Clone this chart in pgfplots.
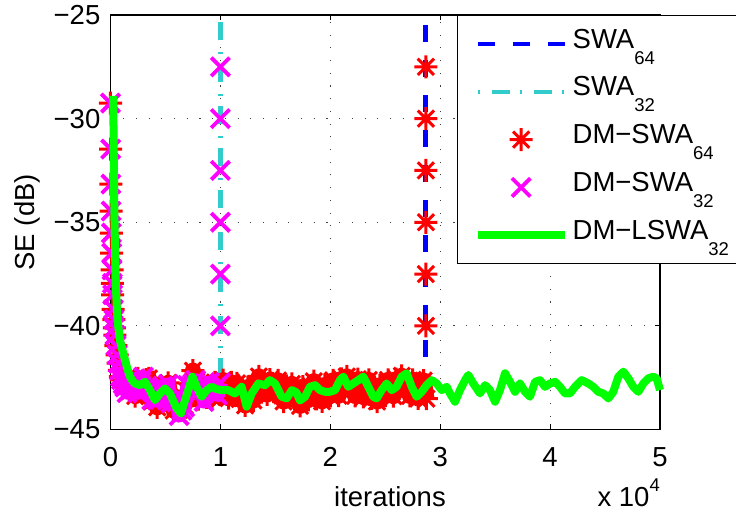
\documentclass[border=0pt]{standalone}
\usepackage{fontspec}
\setmainfont{Liberation Sans}
\usepackage{pgfplots}
\pgfplotsset{compat=1.18}

\definecolor{swablue}{RGB}{0,0,255}
\definecolor{swacyan}{RGB}{51,204,204}
\definecolor{dmred}{RGB}{255,0,0}
\definecolor{dmmagenta}{RGB}{255,0,255}
\definecolor{lswagreen}{RGB}{0,255,0}

% eight-armed asterisk (plus overlaid with a cross)
\pgfdeclareplotmark{mstar}{%
  \pgfpathmoveto{\pgfqpoint{-\pgfplotmarksize}{0pt}}%
  \pgfpathlineto{\pgfqpoint{\pgfplotmarksize}{0pt}}%
  \pgfpathmoveto{\pgfqpoint{0pt}{-\pgfplotmarksize}}%
  \pgfpathlineto{\pgfqpoint{0pt}{\pgfplotmarksize}}%
  \pgfpathmoveto{\pgfqpoint{-.7071\pgfplotmarksize}{-.7071\pgfplotmarksize}}%
  \pgfpathlineto{\pgfqpoint{.7071\pgfplotmarksize}{.7071\pgfplotmarksize}}%
  \pgfpathmoveto{\pgfqpoint{-.7071\pgfplotmarksize}{.7071\pgfplotmarksize}}%
  \pgfpathlineto{\pgfqpoint{.7071\pgfplotmarksize}{-.7071\pgfplotmarksize}}%
  \pgfusepathqstroke}

\newcommand{\bigfont}{\fontsize{27.5}{33}\selectfont}
\newcommand{\sub}[1]{\raisebox{-16pt}{\fontsize{18.5}{18.5}\selectfont #1}}

\begin{document}
\begin{tikzpicture}
\useasboundingbox (0,0) rectangle (736pt,512pt);
\begin{axis}[
  name=ax,
  at={(110.5pt,82.5pt)}, anchor=south west,
  width=549.5pt, height=414.5pt, scale only axis,
  clip=false, clip marker paths=true,
  xmin=0, xmax=5, ymin=-45, ymax=-25,
  xtick={0,1,2,3,4,5}, xticklabels={0,1,2,3,4,5},
  ytick={-45,-40,-35,-30,-25}, yticklabels={−45,−40,−35,−30,−25},
  tick align=inside, major tick length=5.5pt,
  tick style={black, line width=1.1pt},
  grid=major,
  major grid style={black!75, line width=1.1pt, dash pattern=on 1.1pt off 11.6pt},
  axis line style={line width=1.3pt},
  tick label style={font=\bigfont},
  xticklabel style={inner sep=0pt, yshift=-18pt},
  yticklabel style={inner sep=0pt, xshift=-10pt},
  xlabel={iterations}, ylabel={SE (dB)},
  label style={font=\bigfont},
  xlabel style={at={(axis description cs:0.5086,-0.185)}, anchor=base},
  ylabel style={at={(axis description cs:-0.1374,0.5)}, anchor=base},
  legend image code/.code={%
    \draw[mark repeat=2,mark phase=2,#1] plot coordinates {(0pt,0pt) (43.5pt,0pt) (87pt,0pt)};},
  legend cell align=left,
  legend style={at={(axis description cs:0.6297,1)}, anchor=north west,
    font=\bigfont, draw=black, fill=white, line width=1.3pt,
    inner xsep=16.5pt, inner ysep=8.5pt, row sep=7.75pt, column sep=4pt,
    nodes={inner sep=0pt, text height=24pt, text depth=16pt, text width=147pt}},
]

% SWA_64: diverges at about 2.87e4 iterations
\addplot[swablue, line width=4.5pt, dash pattern=on 17pt off 18pt]
  coordinates {(2.865,-43.2) (2.865,-25)};
\addlegendentry{SWA\sub{64}}

% SWA_32: diverges at about 1e4 iterations
\addplot[swacyan, line width=4.5pt, dash pattern=on 2pt off 12pt on 18pt off 10pt]
  coordinates {(1.0,-43.1) (1.0,-25)};
\addlegendentry{SWA\sub{32}}

% DM-SWA_64: initial transient and the samples after divergence
\addplot[dmred, only marks, mark=mstar, mark size=11.5pt, mark options={line width=3pt}]
  coordinates {
  (0,-29.25) (0.002,-31.47) (0.004,-33.16) (0.006,-34.46) (0.008,-35.52)
  (0.011,-36.49) (0.014,-37.3) (0.017,-37.95) (0.02,-38.5) (0.025,-39.2)
  (0.03,-39.7) (0.035,-40.1) (0.04,-40.45) (0.05,-40.95) (0.06,-41.4)
  (0.07,-41.8) (0.08,-42.15) (0.09,-42.45) (0.1,-42.6) (0.115,-42.8)
  (2.87,-40) (2.87,-37.5) (2.87,-35) (2.87,-32.5) (2.87,-30) (2.87,-27.5)
  };
\addlegendentry{DM−SWA\sub{64}}

% DM-SWA_64: steady state (dense samples)
\addplot[dmred, forget plot, line width=16pt, line join=round, mark=mstar, mark size=11.5pt, mark options={line width=3pt}]
  coordinates {
  (0.13,-42.95)
  (0.15,-42.53) (0.175,-43.16) (0.2,-42.83) (0.225,-43.39) (0.25,-42.53)
  (0.275,-42.91) (0.3,-43.17) (0.325,-42.59) (0.35,-42.53) (0.375,-43.65)
  (0.4,-43.53) (0.425,-43.93) (0.45,-42.98) (0.475,-42.99) (0.5,-43.32)
  (0.525,-42.75) (0.55,-43.51) (0.575,-44.08) (0.6,-43.60) (0.625,-44.05)
  (0.65,-43.65) (0.675,-43.85) (0.7,-43.15) (0.725,-43.28) (0.75,-42.16)
  (0.775,-42.90) (0.8,-43.53) (0.825,-43.16) (0.85,-42.81) (0.875,-43.45)
  (0.9,-43.01) (0.925,-43.44) (0.95,-42.73) (0.975,-42.92) (1.0,-43.28)
  (1.025,-42.62) (1.05,-43.20) (1.075,-43.49) (1.1,-42.73) (1.125,-43.03)
  (1.15,-42.77) (1.175,-43.53) (1.2,-43.33) (1.225,-43.84) (1.25,-42.95)
  (1.275,-43.34) (1.3,-43.60) (1.325,-42.81) (1.35,-42.44) (1.375,-43.20)
  (1.4,-42.78) (1.425,-43.31) (1.45,-42.59) (1.475,-42.77) (1.5,-43.23)
  (1.525,-42.63) (1.55,-43.28) (1.575,-43.65) (1.6,-42.90) (1.625,-43.19)
  (1.65,-42.80) (1.675,-43.46) (1.7,-43.27) (1.725,-43.86) (1.75,-42.93)
  (1.775,-43.27) (1.8,-43.57) (1.825,-42.93) (1.85,-42.67) (1.875,-43.52)
  (1.9,-43.18) (1.925,-43.64) (1.95,-42.85) (1.975,-42.97) (2.0,-43.38)
  (2.025,-42.63) (2.05,-43.13) (2.075,-43.37) (2.1,-42.56) (2.125,-42.81)
  (2.15,-42.44) (2.175,-43.08) (2.2,-42.81) (2.225,-43.38) (2.25,-42.57)
  (2.275,-43.03) (2.3,-43.43) (2.325,-42.83) (2.35,-42.61) (2.375,-43.50)
  (2.4,-43.18) (2.425,-43.65) (2.45,-42.87) (2.475,-42.99) (2.5,-43.36)
  (2.525,-42.61) (2.55,-43.13) (2.575,-43.39) (2.6,-42.57) (2.625,-42.81)
  (2.65,-42.41) (2.675,-43.02) (2.7,-42.78) (2.725,-43.38) (2.75,-42.60)
  (2.775,-43.09) (2.8,-43.50) (2.825,-42.90) (2.85,-42.64) (2.875,-43.51)
  };

% DM-SWA_32: initial transient and the samples after divergence
\addplot[dmmagenta, only marks, mark=x, mark size=13pt, mark options={line width=3.8pt}]
  coordinates {
  (0,-29.25) (0.002,-31.47) (0.004,-33.16) (0.006,-34.46) (0.008,-35.52)
  (0.011,-36.49) (0.014,-37.3) (0.017,-37.95) (0.02,-38.5) (0.025,-39.2)
  (0.03,-39.7) (0.035,-40.1) (0.04,-40.45) (0.05,-40.95) (0.06,-41.4)
  (0.07,-41.8) (0.08,-42.15) (0.09,-42.45) (0.1,-42.6) (0.115,-42.8)
  (1.0,-40) (1.0,-37.5) (1.0,-35) (1.0,-32.5) (1.0,-30) (1.0,-27.5)
  };
\addlegendentry{DM−SWA\sub{32}}

% DM-SWA_32: steady state (dense samples)
\addplot[dmmagenta, forget plot, line width=14pt, line join=round, mark=x, mark size=13pt, mark options={line width=3.8pt}]
  coordinates {
  (0.13,-42.95)
  (0.15,-43.23) (0.175,-42.74) (0.2,-42.97) (0.225,-42.55) (0.25,-43.23)
  (0.275,-42.70) (0.3,-42.47) (0.325,-43.01) (0.35,-43.02) (0.375,-43.58)
  (0.4,-43.18) (0.425,-43.58) (0.45,-43.54) (0.475,-42.92) (0.5,-43.11)
  (0.525,-42.82) (0.55,-43.72) (0.575,-43.52) (0.6,-43.67) (0.625,-44.33)
  (0.65,-44.07) (0.675,-43.92) (0.7,-42.87) (0.725,-42.93) (0.75,-42.79)
  (0.775,-42.62) (0.8,-43.18) (0.825,-43.02) (0.85,-43.65) (0.875,-42.96)
  (0.9,-42.73) (0.925,-43.16) (0.95,-43.01) (0.975,-43.34) (1.0,-42.74)
  };

% DM-LSWA_32
\addplot[lswagreen, line width=8pt, line join=round]
  coordinates {
  (0.025,-28.9) (0.03,-32.0) (0.035,-34.5) (0.04,-36.0) (0.045,-37.3)
  (0.05,-38.2) (0.06,-39.4) (0.07,-40.0) (0.086,-40.7) (0.11,-41.2)
  (0.132,-41.65) (0.155,-42.1) (0.177,-42.45) (0.2,-42.65) (0.223,-42.78)
  (0.268,-42.86) (0.314,-42.70) (0.359,-43.10) (0.405,-43.58) (0.450,-43.26)
  (0.496,-43.02) (0.541,-43.26) (0.602,-43.98) (0.641,-44.22) (0.693,-43.34)
  (0.745,-42.45) (0.784,-42.94) (0.830,-43.42) (0.875,-43.10) (0.920,-42.94)
  (0.965,-43.05) (1.011,-43.10) (1.072,-43.10) (1.133,-43.26) (1.193,-42.94)
  (1.239,-43.90) (1.285,-43.26) (1.345,-42.78) (1.406,-42.86) (1.451,-42.62)
  (1.497,-42.78) (1.558,-43.42) (1.603,-43.50) (1.650,-43.10) (1.690,-43.20)
  (1.724,-43.60) (1.770,-43.42) (1.815,-42.94) (1.861,-42.86) (1.906,-43.10)
  (1.952,-43.18) (1.997,-43.18) (2.043,-43.10) (2.088,-42.62) (2.119,-42.45)
  (2.164,-42.94) (2.209,-42.78) (2.255,-42.62) (2.300,-42.45) (2.346,-42.94)
  (2.391,-43.42) (2.422,-43.50) (2.467,-43.10) (2.513,-42.78) (2.559,-43.10)
  (2.604,-42.94) (2.650,-42.45) (2.695,-42.29) (2.741,-42.94) (2.786,-43.42)
  (2.832,-43.18) (2.877,-42.86) (2.923,-42.62) (2.968,-42.78) (3.014,-43.10)
  (3.059,-42.94) (3.089,-43.26) (3.135,-43.66) (3.180,-43.10) (3.226,-42.62)
  (3.256,-42.37) (3.301,-42.78) (3.362,-43.26) (3.408,-42.86) (3.453,-43.10)
  (3.499,-43.66) (3.544,-43.10) (3.590,-42.29) (3.635,-42.70) (3.681,-43.18)
  (3.726,-42.78) (3.772,-43.18) (3.817,-43.42) (3.863,-42.70) (3.908,-42.62)
  (3.954,-42.94) (3.999,-42.78) (4.045,-42.70) (4.090,-42.94) (4.136,-43.26)
  (4.181,-43.26) (4.227,-42.94) (4.287,-42.62) (4.348,-42.78) (4.393,-42.94)
  (4.439,-43.18) (4.484,-43.26) (4.530,-43.50) (4.575,-43.18) (4.621,-42.45)
  (4.666,-42.21) (4.712,-42.53) (4.757,-42.94) (4.803,-43.18) (4.848,-42.78)
  (4.894,-42.53) (4.939,-42.45) (4.970,-42.53) (5.000,-43.10)
  };
\addlegendentry{DM−LSWA\sub{32}}
\end{axis}
\node[anchor=base east, inner sep=0pt, font=\bigfont] at ([yshift=-76.5pt]ax.south east)
  {x 10\raisebox{15pt}{\fontsize{18.5}{18.5}\selectfont 4}};
\end{tikzpicture}
\end{document}
